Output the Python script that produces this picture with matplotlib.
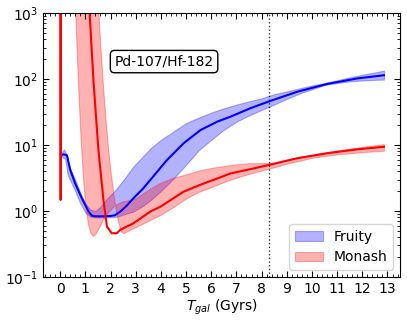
import numpy as np
import matplotlib
matplotlib.use("Agg")
import matplotlib.pyplot as plt
from matplotlib.ticker import MultipleLocator, LogLocator, NullFormatter

# ---------------- data ----------------
# Fruity (blue)
fruity_t = [0.03, 0.07, 0.15, 0.27, 0.4, 0.6, 0.86, 1.13, 1.26, 1.4, 1.7, 2.0, 2.17,
            2.39, 2.64, 2.91, 3.3, 3.58, 4.24, 4.9, 5.57, 6.23, 6.76, 7.55, 8.31,
            9.41, 10.6, 11.8, 12.86]
fruity_v = [7.0, 7.1, 7.2, 7.0, 4.2, 2.6, 1.56, 0.98, 0.85, 0.83, 0.83, 0.84, 0.86,
            0.98, 1.2, 1.56, 2.2, 2.95, 5.9, 10.6, 16.8, 22.5, 26.8, 36, 46,
            64, 84, 102, 114]

fruity_band_t = [0.03, 0.1, 0.15, 0.2, 0.3, 0.4, 0.6, 0.8, 1.0, 1.2, 1.4, 1.6, 1.8,
                 2.0, 2.25, 2.5, 2.9, 3.3, 3.6, 4.0, 4.5, 5.0, 5.5, 6.0, 6.5, 7.0,
                 7.5, 8.0, 8.5, 9.0, 9.5, 10.0, 10.5, 11.0, 11.5, 12.0, 12.5, 12.86]
fruity_hi = [7.3, 8.0, 8.6, 8.0, 6.0, 4.4, 2.95, 1.9, 1.3, 1.05, 1.0, 1.16, 1.45,
             1.75, 2.2, 2.9, 4.7, 6.8, 9.0, 12, 16, 21.5, 26, 31, 36, 41,
             46, 51, 59, 65, 72, 80, 87, 96, 106, 116, 126, 134]
fruity_lo = [6.8, 6.5, 6.3, 6.2, 3.5, 2.9, 2.0, 1.3, 0.95, 0.82, 0.8, 0.8, 0.8,
             0.8, 0.82, 0.88, 0.98, 1.2, 1.47, 2.0, 3.1, 5.0, 8.3, 12, 17, 22.5,
             28, 34, 41, 50, 60, 70, 81, 87, 92, 95, 97, 98]

# Monash (red)
monash_t = [0.0, 0.02, 0.04, 1.0, 1.05, 1.17, 1.33, 1.52, 1.72, 1.86, 2.05, 2.25,
            2.39, 2.91, 3.58, 3.98, 4.9, 5.57, 6.23, 6.76, 7.55, 8.31, 9.41,
            10.6, 11.8, 12.86]
monash_v = [1e5, 1.47, 1e5, 1e5, 6000, 1000, 86, 8.4, 1.47, 0.58, 0.46, 0.46,
            0.52, 0.65, 0.98, 1.16, 1.96, 2.5, 3.1, 3.7, 4.3, 5.0, 6.3,
            7.5, 8.6, 9.4]

monash_band_t = [0.55, 0.6, 0.7, 0.8, 0.9, 1.0, 1.1, 1.2, 1.3, 1.4, 1.5, 1.52, 1.6,
                 1.7, 1.8, 1.9, 2.0, 2.1, 2.2, 2.3, 2.4, 2.5, 2.7, 3.0, 3.5, 4.0,
                 4.5, 5.0, 5.5, 6.0, 6.5, 7.0, 7.5, 8.0, 8.5, 9.0, 10.0, 11.0,
                 12.0, 12.86]
monash_edge_a = [1e4, 1000, 100, 15, 3.5, 1.2, 0.65, 0.47, 0.42, 0.45, 0.53, 0.55, 0.62,
                 0.75, 0.85, 0.95, 1.05, 1.15, 1.25, 1.3, 1.35, 1.4, 1.45, 1.55, 2.1, 2.7,
                 3.2, 3.6, 4.1, 4.5, 4.8, 5.1, 5.3, 5.3, 5.4, 6.0, 7.1, 8.3,
                 9.4, 10.3]
monash_edge_b = [1e4, 1e4, 1e4, 1e4, 1e4, 1e4, 1e4, 1e4, 1e4, 1e4, 1e4, 1000, 300,
                 80, 25, 9, 4, 2, 1.1, 0.7, 0.5, 0.46, 0.5, 0.57, 0.71, 0.88,
                 1.15, 1.55, 1.95, 2.3, 2.75, 3.2, 3.65, 4.1, 4.6, 5.2, 6.4, 7.2,
                 7.8, 8.2]

solar_t = 8.31
label_text = "Pd-107/Hf-182"
series_names = ["Fruity", "Monash"]
xticks = list(range(0, 14))

# ---------------- plot ----------------
fig = plt.figure(figsize=(4.07, 3.22), dpi=100)
ax = fig.add_axes([0.1057, 0.1398, 0.8773, 0.8198])

ax.fill_between(fruity_band_t, fruity_lo, fruity_hi, color="blue", alpha=0.3,
                label=series_names[0], lw=0.8)
ax.plot(fruity_t, fruity_v, color="blue", lw=1.5)
ax.fill_between(monash_band_t, monash_edge_a, monash_edge_b, color="red", alpha=0.3,
                label=series_names[1], lw=0.8)
ax.plot(monash_t, monash_v, color="red", lw=1.5)

ax.axvline(solar_t, color="k", ls=":", lw=1.0, alpha=0.8)

ax.set_yscale("log")
ax.set_ylim(0.1, 1000)
ax.set_xlim(-0.68, 13.5)
ax.set_xticks(xticks)
ax.xaxis.set_minor_locator(MultipleLocator(0.2))
ax.yaxis.set_major_locator(LogLocator(base=10, numticks=10))
ax.yaxis.set_minor_locator(LogLocator(base=10, subs=np.arange(2, 10), numticks=20))
ax.yaxis.set_minor_formatter(NullFormatter())
ax.tick_params(which="both", direction="in", top=True, right=True, labelsize=10)
ax.tick_params(which="major", length=4)
ax.tick_params(which="minor", length=2)

ax.set_xlabel(r"$T_{gal}$ (Gyrs)", fontsize=10, labelpad=1)

ax.text(0.339, 0.816, label_text, transform=ax.transAxes, ha="center", va="center",
        fontsize=10,
        bbox=dict(boxstyle="round,pad=0.3", facecolor="white", edgecolor="black"))

ax.legend(loc="lower right", fontsize=10)

fig.savefig("out.png", dpi=100)
